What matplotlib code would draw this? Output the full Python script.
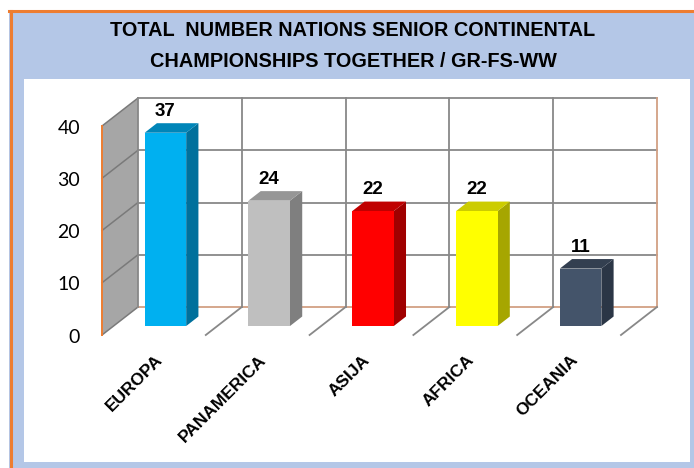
import matplotlib
matplotlib.use("Agg")
import matplotlib.pyplot as plt
from matplotlib.patches import Polygon, Rectangle
from matplotlib.lines import Line2D

# Data
# ------
regions = ["EUROPA", "PANAMERICA", "ASIJA", "AFRICA", "OCEANIA"]
nations = [37, 24, 22, 22, 11]
yticks = [0, 10, 20, 30, 40]
title = "TOTAL  NUMBER NATIONS SENIOR CONTINENTAL\nCHAMPIONSHIPS TOGETHER / GR-FS-WW"

front_cols = ["#00B0F0", "#BFBFBF", "#FF0000", "#FFFF00", "#44546A"]
side_cols = ["#00709C", "#7F7F7F", "#A00000", "#A6A600", "#2B3646"]
top_cols = ["#0085B8", "#969696", "#C00000", "#CCCC00", "#333F50"]

plt.rcParams['font.family'] = ['Lato', 'DejaVu Sans']
BOLD = ['Liberation Sans', 'DejaVu Sans']

# oblique depth offset (data units for depth = 1)
DX = 0.347
DY = 5.36
ymax = 40


def P(x, v, d):
    return (x + DX * d, v + DY * d)


fig = plt.figure(figsize=(6.94, 4.68), dpi=100)
W, H = 694.0, 468.0

# frame: blue background, orange top/left border
fig.patches.append(Rectangle((9 / W, 0), 1, 1 - 11 / H, transform=fig.transFigure,
                             facecolor="#B4C7E7", edgecolor="none", zorder=-5))
fig.lines.append(Line2D([9 / W, 1], [1 - 11 / H, 1 - 11 / H], transform=fig.transFigure,
                        color="#ED7D31", lw=2.2, zorder=-4))
fig.lines.append(Line2D([10.5 / W, 10.5 / W], [0, 1 - 11 / H], transform=fig.transFigure,
                        color="#ED7D31", lw=2.2, zorder=-4))

fig.text(353 / W, 1 - 46 / H, title, ha="center", va="center", fontsize=14.3,
         fontweight="bold", family=BOLD, color="black", linespacing=1.8)

# chart axes (white panel)
ax = fig.add_axes([24 / W, 6 / H, 666 / W, 383 / H])
ax.set_xlim(-0.7514, 5.665)
ax.set_ylim(-24.31, 49.0)
ax.axis("off")
ax.add_patch(Rectangle((0, 0), 1, 1, transform=ax.transAxes, facecolor="white",
                       edgecolor="none", zorder=0))

n = len(regions)
grid_c = "#888888"
axis_c = "#D2A084"

# side wall
ax.add_patch(Polygon([P(0, 0, 0), P(0, 0, 1), P(0, ymax, 1), P(0, ymax, 0)],
                     facecolor="#A6A6A6", edgecolor="none", zorder=1))
for v in yticks:
    ax.plot(*zip(P(0, v, 0), P(0, v, 1)), color="#7A7A7A", lw=1.1, zorder=2)
    ax.plot(*zip(P(0, v, 1), P(n, v, 1)), color=grid_c if v > 0 else axis_c,
            lw=1.3, zorder=2)
for k in range(0, n):
    ax.plot(*zip(P(k, 0, 1), P(k, ymax, 1)), color=grid_c, lw=1.3, zorder=2)
ax.plot(*zip(P(n, 0, 1), P(n, ymax, 1)), color=axis_c, lw=1.3, zorder=2)
for k in range(1, n + 1):
    ax.plot(*zip(P(k, 0, 1), P(k, 0, 0)), color=grid_c, lw=1.3, zorder=2)
ax.plot(*zip(P(0, 0, 0), P(0, ymax, 0)), color="#ED7D31", lw=1.4, zorder=3)

# bars
bw = 0.4
d0, d1 = 0.32, 0.66
for i, val in enumerate(nations):
    x0 = i + 0.5 - bw / 2
    x1 = i + 0.5 + bw / 2
    front = [P(x0, 0, d0), P(x1, 0, d0), P(x1, val, d0), P(x0, val, d0)]
    side = [P(x1, 0, d0), P(x1, 0, d1), P(x1, val, d1), P(x1, val, d0)]
    top = [P(x0, val, d0), P(x1, val, d0), P(x1, val, d1), P(x0, val, d1)]
    ax.add_patch(Polygon(side, facecolor=side_cols[i], edgecolor="none", zorder=4))
    ax.add_patch(Polygon(top, facecolor=top_cols[i], edgecolor="none", zorder=4))
    ax.add_patch(Polygon(front, facecolor=front_cols[i], edgecolor="none", zorder=5))
    lx, ly = P(i + 0.5, val, d0)
    ax.annotate(str(val), (lx, ly), xytext=(0, 12), textcoords="offset points",
                ha="center", va="baseline", fontsize=13.5, fontweight="bold",
                family=BOLD, color="black", zorder=6)

# value axis labels
for v in yticks:
    ax.text(-0.212, v - 0.4, str(v), ha="right", va="center", fontsize=14,
            color="black")

# category labels
for i, name in enumerate(regions):
    ax.text(i + 0.56, -4.3, name, rotation=45, rotation_mode="anchor",
            ha="right", va="center", fontsize=12.5, fontweight="bold",
            family=BOLD, color="black")

fig.savefig("out.png", dpi=100)
